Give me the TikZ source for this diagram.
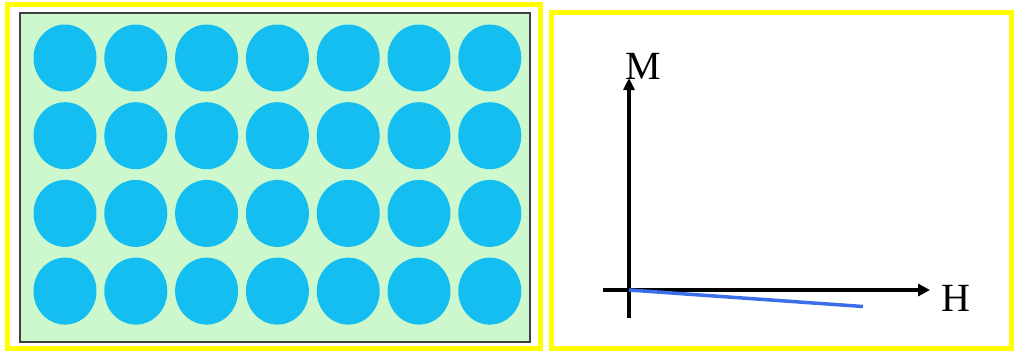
\documentclass[tikz,border=0pt]{standalone}
\usepackage{fontspec}
\setmainfont{Liberation Serif}
\usetikzlibrary{arrows.meta}
\definecolor{frameyellow}{RGB}{255,255,0}
\definecolor{dotcyan}{RGB}{20,190,240}
\definecolor{bgreen}{RGB}{205,248,205}
\definecolor{lineblue}{RGB}{60,110,235}
\tikzset{
  yframe/.style={draw=frameyellow, line width=5pt},
  dot/.style={fill=dotcyan, draw=none},
  axis/.style={line width=3.2pt, black},
  lbl/.style={font=\fontsize{40}{40}\selectfont, inner sep=0pt},
}
\begin{document}
\begin{tikzpicture}[x=1pt,y=-1pt]
\useasboundingbox (0,0) rectangle (1014,351);
\fill[white] (0,0) rectangle (1014,351);
% left panel
\draw[yframe] (7.5,4.5) rectangle (540.5,348.5);
\draw[fill=bgreen, draw=black!75, line width=1.5pt] (20,13) rectangle (530,342);
\foreach \i in {0,...,6}{
  \foreach \j in {0,...,3}{
    \fill[dot] ({65+70.8*\i},{58+77.7*\j}) ellipse [x radius=31.5, y radius=33.5];
  }
}
% right panel
\draw[yframe] (551.5,12.5) rectangle (1011.5,348.5);
\coordinate (vb) at (629,318);
\coordinate (vt) at (629,78);
\coordinate (hl) at (603,290);
\coordinate (hr) at (930,290);
\coordinate (o) at (629,290);
\coordinate (be) at (863,306.5);
\draw[axis, -{Triangle[length=12pt,width=11pt]}] (vb) -- (vt);
\draw[axis, -{Triangle[length=12pt,width=12pt]}] (hl) -- (hr);
\draw[lineblue, line width=3.5pt] (o) -- (be);
\node[lbl] (M) at (643,66) {M};
\node[lbl] (H) at (956,298) {H};
\end{tikzpicture}
\end{document}
